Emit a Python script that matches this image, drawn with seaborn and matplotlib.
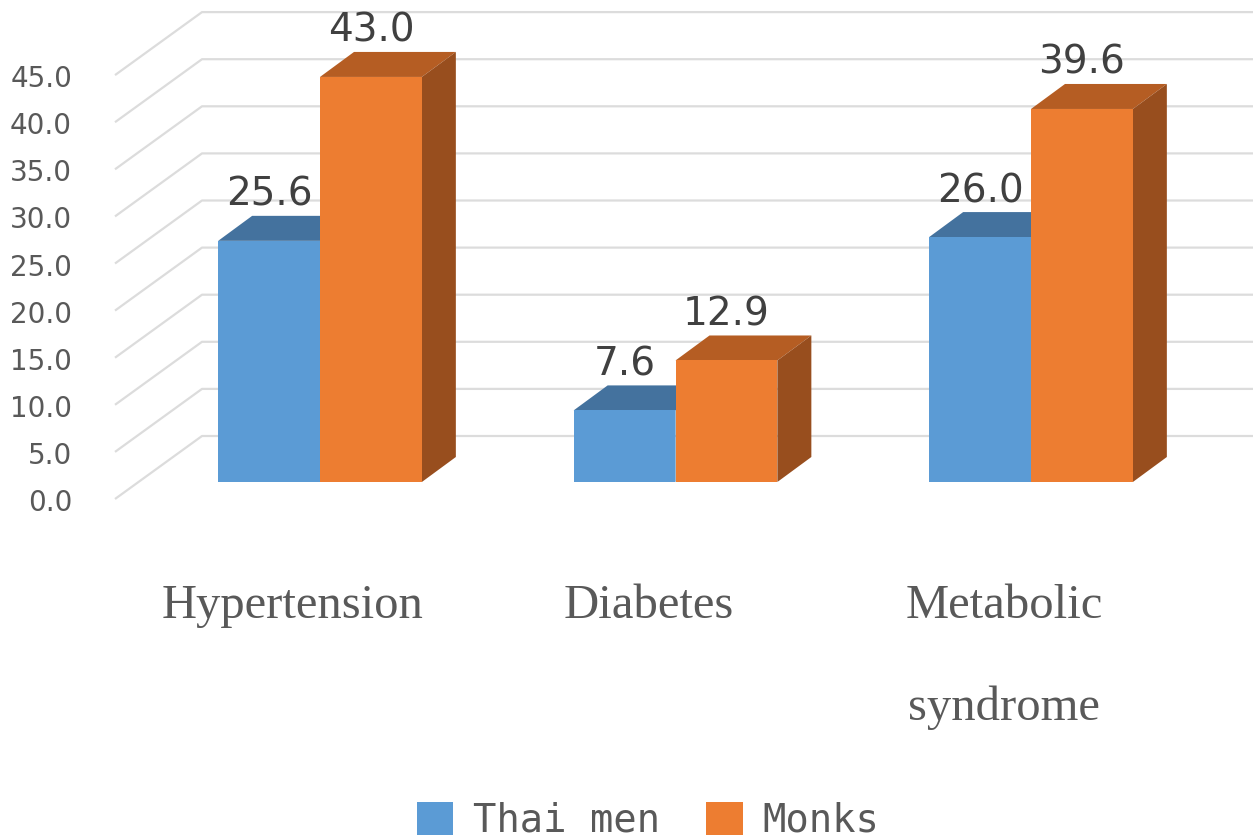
import numpy as np
import pandas as pd
import matplotlib
matplotlib.use("Agg")
import matplotlib.pyplot as plt
from matplotlib.patches import Polygon, Patch
import seaborn as sns

# ---- data ----
conditions = ["Hypertension", "Diabetes", "Metabolic\nsyndrome"]
groups = ["Thai men", "Monks"]
thai_men = [25.6, 7.6, 26.0]
monks = [43.0, 12.9, 39.6]
y_ticks = [0, 5, 10, 15, 20, 25, 30, 35, 40, 45]

# ---- styling ----
front_colors = ["#5B9BD5", "#ED7D31"]
top_colors = ["#44729E", "#B55D23"]
side_colors = ["#41709B", "#984E1E"]
grid_color = "#DCDCDC"
axis_text = "#595959"
label_text = "#404040"

W, H, DPI = 1253, 840, 100
# scale of the drawing: pixels per category step and per value unit
PX_X = 355.5
PX_V = 9.42
X0_PX = 320.0      # pixel position of the first category centre
V0_PX = 482.0      # pixel row of the value 0 at the bar front plane

def dx(px):
    return px / PX_X

def dv(px):
    return px / PX_V

sns.set_theme(style="white")
plt.rcParams["font.family"] = ["DejaVu Sans"]

df = pd.DataFrame({
    "condition": conditions * 2,
    "group": [groups[0]] * 3 + [groups[1]] * 3,
    "value": thai_men + monks,
})

fig = plt.figure(figsize=(W / DPI, H / DPI), dpi=DPI)
ax = fig.add_axes([0, 0, 1, 1])

sns.barplot(data=df, x="condition", y="value", hue="group", order=conditions,
            hue_order=groups, palette=front_colors, saturation=1, width=0.573,
            gap=0, linewidth=0, legend=False, ax=ax)

ax.set_xlim(-X0_PX / PX_X, (W - X0_PX) / PX_X)
ax.set_ylim((V0_PX - H) / PX_V, V0_PX / PX_V)
ax.set_axis_off()

# depth of a bar and of the floor/back wall
bar_dx, bar_dv = dx(34), dv(25)
wall_front_x, wall_front_dv = dx(115 - X0_PX), -dv(17)
wall_back_x, wall_back_dv = dx(202 - X0_PX), dv(46)

# gridlines: a slanted segment along the side wall, then along the back wall
for t in y_ticks:
    ax.plot([wall_front_x, wall_back_x, ax.get_xlim()[1] + 1],
            [t + wall_front_dv, t + wall_back_dv, t + wall_back_dv],
            color=grid_color, lw=1.6, zorder=0, solid_capstyle="butt")
    ax.text(dx(72 - X0_PX), t + wall_front_dv - dv(4), f"{t:.1f}",
            ha="right", va="center", fontsize=20, color=axis_text)

# extrude every bar into a box (top and right faces)
for hi, cont in enumerate(ax.containers):
    for patch in cont:
        x0, w, h = patch.get_x(), patch.get_width(), patch.get_height()
        patch.set_zorder(3 + 2 * hi)
        top = Polygon([(x0, h), (x0 + w, h), (x0 + w + bar_dx, h + bar_dv),
                       (x0 + bar_dx, h + bar_dv)], closed=True,
                      facecolor=top_colors[hi], edgecolor="none", zorder=2 + 2 * hi)
        side = Polygon([(x0 + w, 0), (x0 + w + bar_dx, bar_dv),
                        (x0 + w + bar_dx, h + bar_dv), (x0 + w, h)], closed=True,
                       facecolor=side_colors[hi], edgecolor="none", zorder=2 + 2 * hi)
        ax.add_patch(top)
        ax.add_patch(side)
        ax.text(x0 + w / 2, h + bar_dv + dv(10), f"{h:.1f}", ha="center",
                va="baseline", fontsize=28, color=label_text, zorder=10)

# category labels, one text per line with wide line spacing
for i, name in enumerate(conditions):
    for k, line in enumerate(name.split("\n")):
        ax.text(i + dx(-27), dv(V0_PX - 618 - 102 * k), line, ha="center",
                va="baseline", fontsize=35, family="Liberation Serif",
                color=axis_text)

# legend
handles = [Patch(facecolor=c, edgecolor="none") for c in front_colors]
fig.legend(handles, groups, loc="center", bbox_to_anchor=(648 / W, 1 - 821 / H),
           ncol=2, frameon=False, handlelength=0.93, handleheight=0.93,
           handletextpad=0.5, columnspacing=1.2,
           prop={"family": "DejaVu Sans Mono", "size": 28}, labelcolor=axis_text)

fig.savefig("out.png", dpi=DPI, facecolor="white")
